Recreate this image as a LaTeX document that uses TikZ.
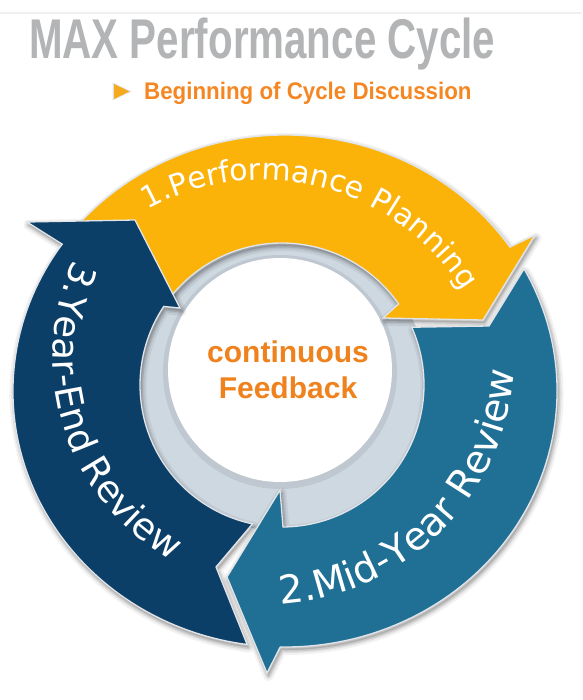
\documentclass[tikz,border=0pt]{standalone}
\usepackage{fontspec}
\usepackage{graphicx}
\setmainfont{Liberation Sans}
\newfontfamily\arcfont{DejaVu Sans}
\usetikzlibrary{decorations.text}
\definecolor{cOrange}{RGB}{251,179,10}
\definecolor{cBlue}{RGB}{32,112,150}
\definecolor{cNavy}{RGB}{12,63,104}
\definecolor{cRing}{RGB}{206,216,224}
\definecolor{cTitle}{RGB}{178,180,182}
\definecolor{cSub}{RGB}{245,135,35}
\definecolor{cFeed}{RGB}{240,130,30}
\definecolor{cTri}{RGB}{245,170,30}
\definecolor{cRim}{RGB}{225,228,232}

\newcommand\PathOrange{([shift={(285,-391)}]139.5:272 and 256) arc[start angle=139.5,end angle=34.2,x radius=272,y radius=256] -- (535,-235) -- (483,-320) -- (383,-318) -- ([shift={(282,-385)}]34.8:142) arc[start angle=34.8,end angle=142,radius=142] -- (132,-226) -- cycle}
\newcommand\PathBlue{([shift={(285,-391)}]28.5:272 and 256) arc[start angle=28.5,end angle=-91,x radius=272,y radius=256] -- (267,-673) -- (227,-577) -- (280,-490) -- ([shift={(282,-385)}]-89.6:142) arc[start angle=-89.6,end angle=24,radius=142] -- (489,-326) -- cycle}
\newcommand\PathNavy{([shift={(285,-391)}]262:272 and 256) arc[start angle=262,end angle=145,x radius=272,y radius=256] -- (27,-222) -- (135,-220) -- (180,-308) -- ([shift={(282,-385)}]146.4:142) arc[start angle=146.4,end angle=258,radius=142] -- (216,-567) -- cycle}

\newcommand\fontOrangeTxt{\arcfont\fontsize{30}{36}\selectfont}
\newcommand\fontBlueTxt{\arcfont\fontsize{39}{46}\selectfont}
\newcommand\fontNavyTxt{\arcfont\fontsize{37}{44}\selectfont}

\tikzset{
  shA/.style={draw=black, opacity=0.05, line width=10, line join=round},
  shB/.style={draw=black, opacity=0.07, line width=6, line join=round},
  shC/.style={draw=black, opacity=0.10, line width=3, line join=round},
  shF/.style={fill=black, opacity=0.12},
  arrowfill/.style={draw=cRim, line width=1.3, line join=miter},
  arctext/.style={decorate, decoration={text along path, text align=center, text color=white}},
  plain/.style={anchor=base west, inner sep=0}
}

\begin{document}
\begin{tikzpicture}[x=1pt,y=1pt]
\useasboundingbox (0,0) rectangle (582,-700);
\fill[white] (0,0) rectangle (582,-700);
\draw[gray!12, line width=1.2] (0,-13) -- (582,-13);

% heading
\node[plain, text=cTitle] (title) at (29,-59)
  {\scalebox{0.72}[1]{\fontsize{56}{60}\selectfont\bfseries MAX Performance Cycle}};
\node[plain, text=cSub] (sub) at (144,-100)
  {\scalebox{0.93}[1]{\fontsize{24}{28}\selectfont\bfseries Beginning of Cycle Discussion}};
\fill[gray!22] (112.5,-82.5) -- (112.5,-100.5) -- (131.5,-91.5) -- cycle;
\fill[cTri] (114,-84) -- (114,-99) -- (129.5,-91.5) -- cycle;

% centre rings
\fill[cRing] (282,-385) circle[radius=146];
\fill[black, opacity=0.07] (280,-372) circle[radius=117];
\fill[white] (280,-370) circle[radius=112];

% shadows
\begin{scope}[shift={(1.5,-3)}]
  \draw[shA] \PathOrange; \draw[shB] \PathOrange; \draw[shC] \PathOrange; \fill[shF] \PathOrange;
  \draw[shA] \PathBlue;   \draw[shB] \PathBlue;   \draw[shC] \PathBlue;   \fill[shF] \PathBlue;
  \draw[shA] \PathNavy;   \draw[shB] \PathNavy;   \draw[shC] \PathNavy;   \fill[shF] \PathNavy;
\end{scope}

% arrows
\fill[cOrange, arrowfill] \PathOrange;
\fill[cBlue, arrowfill] \PathBlue;
\fill[cNavy, arrowfill] \PathNavy;

% curved labels
\path[arctext, decoration={text={|\fontOrangeTxt|1.Performance Planning}}]
  ([shift={(262,-417)}]135.5:237) arc[start angle=135.5, end angle=15.5, radius=237];
\path[arctext, decoration={text={|\fontBlueTxt|2.Mid-Year Review}}]
  ([shift={(264,-354)}]-105:251) arc[start angle=-105, end angle=15, radius=251];
\path[arctext, decoration={text={|\fontNavyTxt|3.Year-End Review}}]
  ([shift={(287,-357)}]138:234) arc[start angle=138, end angle=258, radius=234];

% centre text
\node[anchor=base, inner sep=0, text=cFeed, font=\bfseries\fontsize{30}{36}\selectfont] (cont) at (288,-362) {continuous};
\node[anchor=base, inner sep=0, text=cFeed, font=\bfseries\fontsize{30}{36}\selectfont] (feed) at (288,-398) {Feedback};
\end{tikzpicture}
\end{document}
